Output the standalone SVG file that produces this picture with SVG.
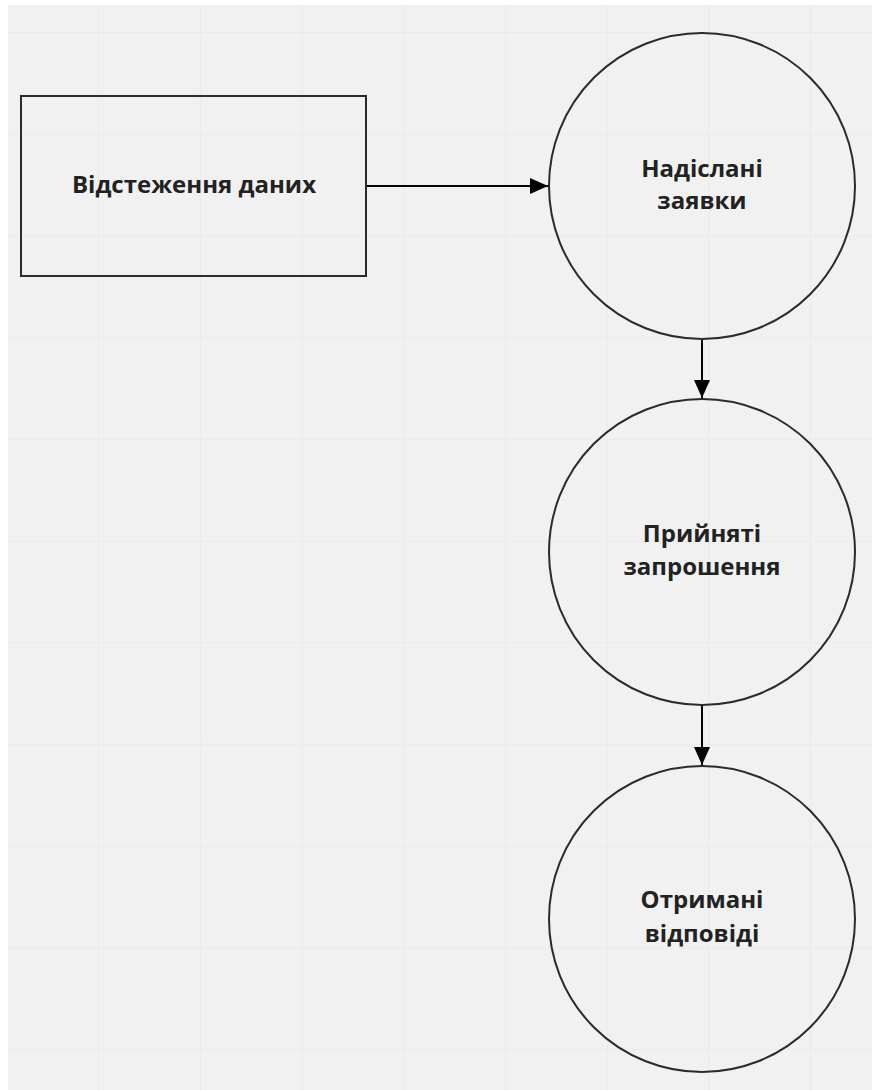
<svg xmlns="http://www.w3.org/2000/svg" width="872" height="1090" viewBox="0 0 872 1090">
  <defs>
    <pattern id="grid" x="-3.5" y="32" width="101.7" height="101.7" patternUnits="userSpaceOnUse">
      <path d="M 101.7 0 L 0 0 0 101.7" fill="none" stroke="#e6e6e6" stroke-width="1.2"/>
    </pattern>
    <marker id="arrow" viewBox="0 0 18 16" refX="18" refY="8" markerWidth="18" markerHeight="16" markerUnits="userSpaceOnUse" orient="auto">
      <path d="M0 0 L18 8 L0 16 Z" fill="#000"/>
    </marker>
  </defs>
  <style>
    .shape { fill: none; stroke: #2b2b2b; stroke-width: 2; }
    .label { font-family: "Open Sans", "Noto Sans", sans-serif; font-weight: bold; font-size: 24px; fill: #222; text-anchor: middle; }
    .edge { stroke: #000; stroke-width: 2; fill: none; }
  </style>

  <!-- canvas -->
  <rect width="872" height="1090" fill="#ffffff"/>
  <rect x="8" y="5" width="864" height="1085" fill="#f1f1f1"/>
  <rect x="8" y="5" width="864" height="1085" fill="url(#grid)"/>

  <g id="connectors">
    <line class="edge" x1="366" y1="186" x2="548" y2="186" marker-end="url(#arrow)"/>
    <line class="edge" x1="702" y1="340" x2="702" y2="398" marker-end="url(#arrow)"/>
    <line class="edge" x1="702" y1="706" x2="702" y2="765" marker-end="url(#arrow)"/>
  </g>

  <g id="tracking">
    <rect class="shape" x="21" y="96" width="345" height="180"/>
    <text class="label" x="194" y="193">Відстеження даних</text>
  </g>

  <g id="sent">
    <circle class="shape" cx="702" cy="186" r="153"/>
    <text class="label" x="702" y="177">Надіслані</text>
    <text class="label" x="702" y="209">заявки</text>
  </g>

  <g id="accepted">
    <circle class="shape" cx="702" cy="552" r="153"/>
    <text class="label" x="702" y="542">Прийняті</text>
    <text class="label" x="702" y="575">запрошення</text>
  </g>

  <g id="received">
    <circle class="shape" cx="702" cy="919" r="153"/>
    <text class="label" x="702" y="908">Отримані</text>
    <text class="label" x="702" y="942">відповіді</text>
  </g>
</svg>
